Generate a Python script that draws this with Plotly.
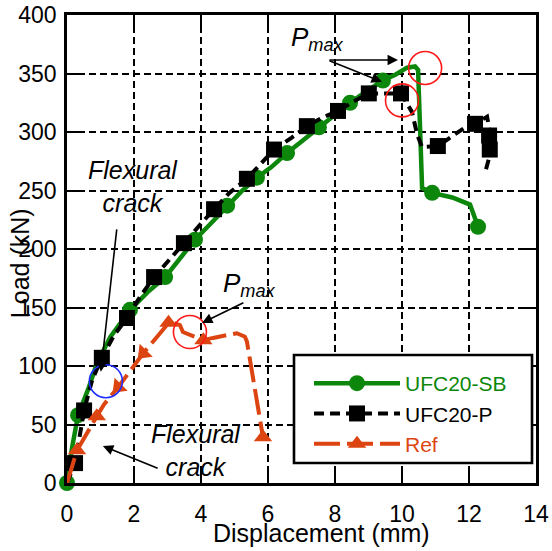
import plotly.graph_objects as go

# ---- data: load-displacement curves (displacement in mm, load in kN) ----
sb_curve_x = [0, 0.15, 0.33, 0.63, 0.9, 1.3, 1.88, 2.4, 2.93, 3.4, 3.82, 4.3, 4.78, 5.2,
              5.67, 6.1, 6.57, 7.0, 7.52, 8.0, 8.45, 8.9, 9.43, 9.8, 10.15, 10.39, 10.48,
              10.6, 10.9, 11.5, 12.03, 12.12, 12.27]
sb_curve_y = [0, 30, 58, 80, 103, 125, 148, 163, 176, 193, 208, 222, 237, 249,
              261, 270, 282, 292, 304, 315, 325, 334, 344, 349, 355, 356, 353,
              252, 248, 244, 238, 231, 219]
sb_mark_x = [0, 0.33, 1.88, 2.93, 3.82, 4.78, 5.67, 6.57, 7.52, 8.45, 9.43, 10.9, 12.27]
sb_mark_y = [0, 58, 148, 176, 208, 237, 261, 282, 304, 325, 344, 248, 219]

p_curve_x = [0, 0.24, 0.51, 0.75, 1.04, 1.4, 1.79, 2.2, 2.6, 3.05, 3.49, 3.95, 4.39, 4.85,
             5.37, 5.8, 6.18, 6.7, 7.16, 7.6, 8.09, 8.55, 9.01, 9.5, 9.97, 10.3, 10.45,
             10.6, 11.07, 11.58, 11.94, 12.18, 12.54, 12.62, 12.65, 12.6, 12.48]
p_curve_y = [0, 17, 62, 88, 107, 126, 141, 160, 176, 191, 205, 220, 234, 248,
             260, 273, 285, 295, 305, 312, 318, 326, 333, 333, 333, 317, 298,
             287, 288, 298, 305, 307, 313, 300, 288, 278, 265]
p_mark_x = [0.24, 0.51, 1.04, 1.79, 2.6, 3.49, 4.39, 5.37, 6.18, 7.16, 8.09, 9.01, 9.97,
            11.07, 12.18, 12.6, 12.62]
p_mark_y = [17, 62, 107, 141, 176, 205, 234, 260, 285, 305, 318, 333, 333,
            288, 307, 297, 285]

ref_curve_x = [0, 0.3, 0.89, 1.1, 1.53, 2.28, 2.69, 3.03, 3.07, 3.37, 3.46, 4.07, 4.36,
               5.07, 5.31, 5.37, 5.46, 5.76, 5.85]
ref_curve_y = [0, 28, 57, 67, 82, 111, 125, 137, 138, 135, 129, 122, 124,
               128, 125, 121, 105, 56, 39]
ref_mark_x = [0.3, 0.89, 1.53, 2.28, 3.03, 4.07, 5.85]
ref_mark_y = [28, 57, 82, 111, 137, 122, 39]

x_ticks = [0, 2, 4, 6, 8, 10, 12, 14]
y_ticks = [0, 50, 100, 150, 200, 250, 300, 350, 400]

GREEN = "#0c870c"
BLACK = "#000000"
RED = "#dc4512"
FONT = "Liberation Sans, Arial, sans-serif"

fig = go.Figure()


def add_series(name, label_html, cx, cy, mx, my, color, dash, width, symbol, msize, angles=None):
    fig.add_trace(go.Scatter(x=cx, y=cy, mode="lines", showlegend=False,
                             line=dict(color=color, width=width, dash=dash),
                             cliponaxis=False, hoverinfo="skip"))
    mk = dict(color=color, size=msize, symbol=symbol)
    if angles is not None:
        mk["angle"] = angles
    fig.add_trace(go.Scatter(x=mx, y=my, mode="markers", showlegend=False,
                             marker=mk, cliponaxis=False, name=name))
    # legend entry
    fig.add_trace(go.Scatter(x=[None], y=[None], mode="lines+markers", name=label_html,
                             line=dict(color=color, width=width, dash=dash),
                             marker=dict(color=color, size=msize, symbol=symbol)))


add_series("UFC20-SB", f"<span style='color:{GREEN}'>UFC20-SB</span>",
           sb_curve_x, sb_curve_y, sb_mark_x, sb_mark_y, GREEN, "solid", 4.5, "circle", 16)
add_series("UFC20-P", "UFC20-P",
           p_curve_x, p_curve_y, p_mark_x, p_mark_y, BLACK, "10px,6px", 4, "square", 16)
add_series("Ref", f"<span style='color:{RED}'>Ref</span>",
           ref_curve_x, ref_curve_y, ref_mark_x, ref_mark_y, RED, "26px,7px", 4,
           "triangle-up", 16, angles=[0, 0, 225, 225, 0, 0, 0])

axis_common = dict(
    showgrid=True, gridcolor="black", gridwidth=1.6, griddash="7px,4px",
    showline=True, linecolor="black", linewidth=2.6, mirror="ticks",
    ticks="inside", ticklen=13, tickwidth=2.4, tickcolor="black",
    zeroline=False, automargin=False,
    tickfont=dict(family=FONT, size=23, color="black"),
)
fig.update_xaxes(range=[0, 14], tickvals=x_ticks, ticklabelstandoff=9, **axis_common)
fig.update_yaxes(range=[0, 400], tickvals=y_ticks, ticklabelstandoff=3, **axis_common)

ann = []
# axis titles
ann.append(dict(text="Displacement (mm)", xref="paper", yref="paper", x=0.5416, y=-0.107,
                showarrow=False, font=dict(family=FONT, size=25, color="black"),
                xanchor="center", yanchor="middle"))
ann.append(dict(text="Load (kN)", xref="paper", yref="paper", x=-0.1, y=0.47, textangle=-90,
                showarrow=False, font=dict(family=FONT, size=25, color="black"),
                xanchor="center", yanchor="middle"))
# caption under the chart
ann.append(dict(text="Fig. 8  Load-displacement curves", xref="paper", yref="paper",
                x=0.092, y=-0.131, showarrow=False, xanchor="left", yanchor="top",
                font=dict(family=FONT, size=24, color="black")))
# text labels
ann.append(dict(text="<i>Flexural<br>crack</i>", x=1.97, y=253.8, showarrow=False,
                font=dict(family=FONT, size=25, color="black")))
ann.append(dict(text="<i>Flexural<br>crack</i>", x=3.85, y=27.4, showarrow=False,
                font=dict(family=FONT, size=25, color="black")))
ann.append(dict(text="<i>P<sub>max</sub></i>", x=6.63, y=379.5, showarrow=False,
                xanchor="left", font=dict(family=FONT, size=26, color="black")))
ann.append(dict(text="<i>P<sub>max</sub></i>", x=4.6, y=169.5, showarrow=False,
                xanchor="left", font=dict(family=FONT, size=26, color="black")))
# pointer arrows
arrows = [((1.49, 218), (1.01, 95)),
          ((7.79, 361.5), (9.88, 361.5)),
          ((7.79, 361.5), (9.4, 343)),
          ((5.31, 154.7), (4.03, 136.8)),
          ((2.75, 12), (1.07, 31.6))]
for (tx, ty), (hx, hy) in arrows:
    ann.append(dict(x=hx, y=hy, ax=tx, ay=ty, xref="x", yref="y", axref="x", ayref="y",
                    text="", showarrow=True, arrowhead=2, arrowsize=1.3, arrowwidth=1.6,
                    arrowcolor="black"))

# highlight circles
circles = [((1.16, 87), "#1f2fff"), ((10.69, 354.7), "#ff1a1a"),
           ((10.0, 327), "#ff1a1a"), ((3.67, 129), "#ff1a1a")]
shapes = []
for (cx, cy), col in circles:
    shapes.append(dict(type="circle", xref="x", yref="y", xsizemode="pixel",
                       ysizemode="pixel", xanchor=cx, yanchor=cy,
                       x0=-16.5, x1=16.5, y0=-16.5, y1=16.5,
                       line=dict(color=col, width=1.6)))
# legend frame
shapes.append(dict(type="rect", xref="paper", yref="paper",
                   x0=0.484, x1=0.9915, y0=0.0427, y1=0.2735, layer="above",
                   fillcolor="white", line=dict(color="black", width=2.6)))

fig.update_layout(
    width=552, height=551,
    margin=dict(l=67, r=16, t=15, b=68, autoexpand=False),
    paper_bgcolor="white", plot_bgcolor="white",
    font=dict(family=FONT, color="black"),
    annotations=ann, shapes=shapes,
    legend=dict(x=0.516, y=0.2564, xanchor="left", yanchor="top",
                bgcolor="rgba(0,0,0,0)", borderwidth=0,
                font=dict(family=FONT, size=21, color="black"),
                itemwidth=86, tracegroupgap=0),
)

fig.write_html("out.html")
